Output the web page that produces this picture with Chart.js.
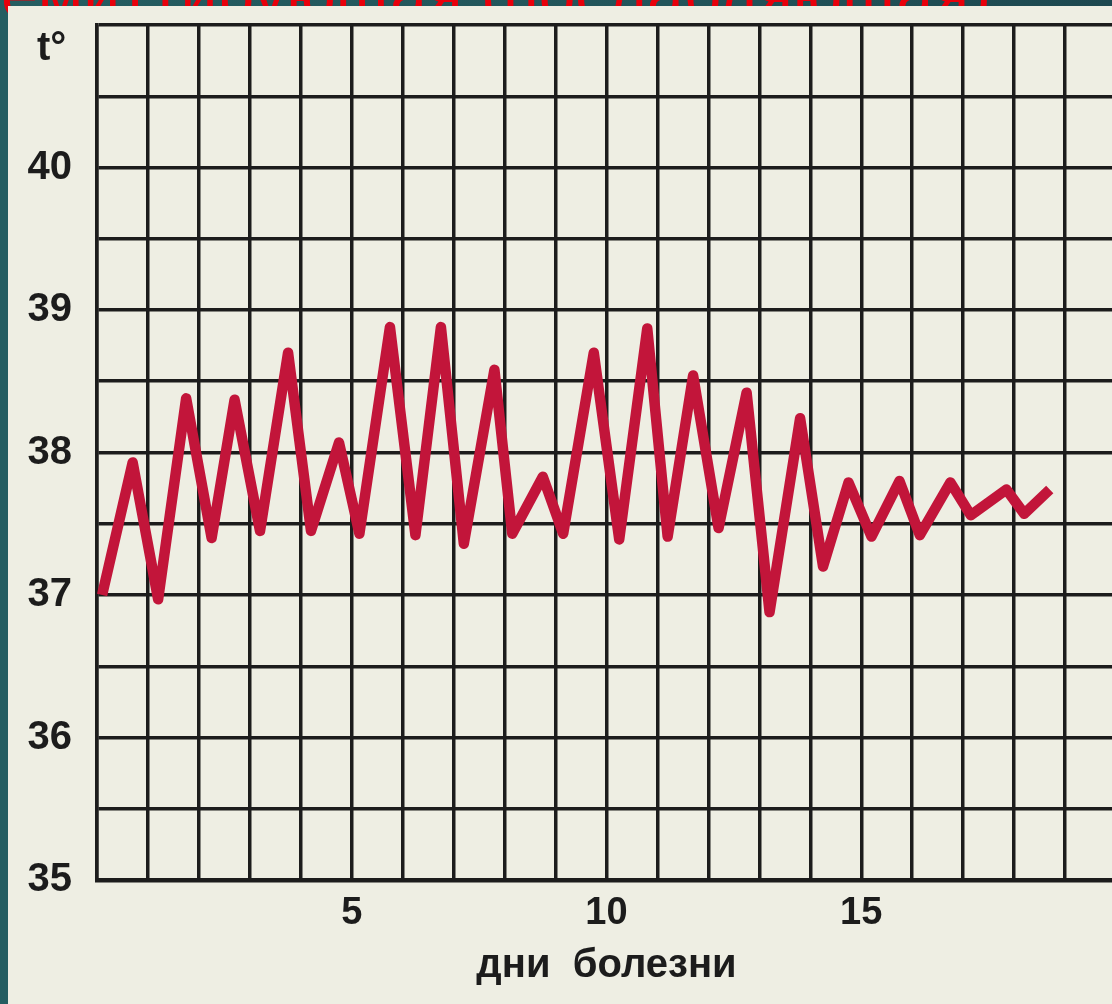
<!DOCTYPE html>
<html>
<head>
<meta charset="utf-8">
<script src="https://cdn.jsdelivr.net/npm/chart.js@4/dist/chart.umd.min.js"></script>
<style>
	html, body { margin: 0; padding: 0; }
	body {
		width: 1112px; height: 1004px; overflow: hidden; position: relative;
		background: linear-gradient(90deg, #245d61 0%, #22545a 60%, #1d4850 100%);
		font-family: "Liberation Sans", Arial, sans-serif;
	}
	/*Titulo del slide, casi todo tapado por el panel*/
	.slide_title {
		position: absolute; left: -40px; top: -58px;
		color: #e8000b; font-size: 66px; line-height: 104px; white-space: nowrap;
	}
	.panel {
		position: absolute; left: 8px; top: 6px; width: 1125px; height: 998px;
		background: #eeeee3;
	}
</style>
</head>
<body>
<div class="slide_title">Ремиттирующая (послабляющая)<br>4</div>
<div class="panel"><canvas id="grafica_temp"></canvas></div>

<script>
// dia de enfermedad (mañana / tarde)
const days = [0.1, 0.7, 1.2, 1.75, 2.25, 2.7, 3.2, 3.75, 4.2, 4.75,
	5.15, 5.75, 6.25, 6.75, 7.2, 7.8, 8.15, 8.75, 9.15, 9.75,
	10.25, 10.8, 11.2, 11.7, 12.2, 12.75, 13.2, 13.8, 14.25, 14.75,
	15.2, 15.75, 16.15, 16.75, 17.15, 17.85, 18.2, 18.7];
// temperatura
const temps = [37.0, 37.93, 36.97, 38.38, 37.4, 38.37, 37.45, 38.7, 37.45, 38.07,
	37.43, 38.88, 37.42, 38.88, 37.36, 38.58, 37.43, 37.83, 37.43, 38.7,
	37.39, 38.87, 37.41, 38.54, 37.47, 38.42, 36.88, 38.24, 37.2, 37.79,
	37.41, 37.8, 37.42, 37.79, 37.56, 37.74, 37.57, 37.74];
const xLabels = [5, 10, 15];
const yLabels = [35, 36, 37, 38, 39, 40];
const yTitle = 't°';
const xTitle = 'дни  болезни';

const ink = '#1c1c1c';
const gridWidth = 3.5;
const fontFamily = '"Liberation Sans", Arial, sans-serif';

//t° arriba a la izquierda
const tLabel = {
	id: 'tLabel',
	afterDraw(chart) {
		const ctx = chart.ctx;
		const area = chart.chartArea;
		ctx.save();
		ctx.fillStyle = ink;
		ctx.font = 'bold 40px ' + fontFamily;
		ctx.textAlign = 'left';
		ctx.textBaseline = 'alphabetic';
		ctx.fillText(yTitle, area.left - 60, area.top + 35);
		ctx.restore();
	}
};

document.addEventListener("DOMContentLoaded", () => {
	Grafica();
});

function Grafica() {
	const canvas2d = document.getElementById('grafica_temp').getContext('2d');
	const points = days.map((d, i) => ({ x: d, y: temps[i] }));

	var chart = new Chart(canvas2d, {
		type: 'line',
		data: {
			datasets: [{
				data: points,
				borderColor: '#c2153a',
				borderWidth: 10.5,
				borderJoinStyle: 'round',
				borderCapStyle: 'butt',
				pointRadius: 0,
				tension: 0,
				fill: false
			}]
		},
		options: {
			responsive: true,
			maintainAspectRatio: false,
			animation: false,
			devicePixelRatio: 1,
			layout: { padding: { top: 19, right: 17, left: 0, bottom: 0 } },
			plugins: { legend: { display: false }, tooltip: { enabled: false } },
			scales: {
				x: {
					type: 'linear',
					min: 0, max: 20,
					afterFit: (scale) => {
						scale.height = 124;
						scale.paddingLeft = 0;
						scale.paddingRight = 0;
					},
					ticks: {
						stepSize: 1,
						autoSkip: false,
						maxRotation: 0,
						padding: 11,
						color: ink,
						font: { size: 38, weight: 'bold', family: fontFamily },
						callback: (v) => xLabels.includes(v) ? String(v) : ''
					},
					grid: { color: ink, lineWidth: gridWidth, drawTicks: false },
					border: { display: true, color: ink, width: 4.5 },
					title: {
						display: true,
						text: xTitle,
						color: ink,
						font: { size: 40, weight: 'bold', family: fontFamily },
						padding: { top: 0, bottom: 14 }
					}
				},
				y: {
					min: 35, max: 41,
					afterFit: (scale) => {
						scale.width = 89;
						scale.paddingTop = 0;
						scale.paddingBottom = 0;
					},
					ticks: {
						stepSize: 0.5,
						autoSkip: false,
						padding: 25,
						color: ink,
						font: { size: 40, weight: 'bold', family: fontFamily },
						callback: (v) => yLabels.includes(v) ? String(v) : ''
					},
					grid: { color: ink, lineWidth: gridWidth, drawTicks: false },
					border: { display: true, color: ink, width: gridWidth }
				}
			}
		},
		plugins: [tLabel]
	});
}
</script>
</body>
</html>
